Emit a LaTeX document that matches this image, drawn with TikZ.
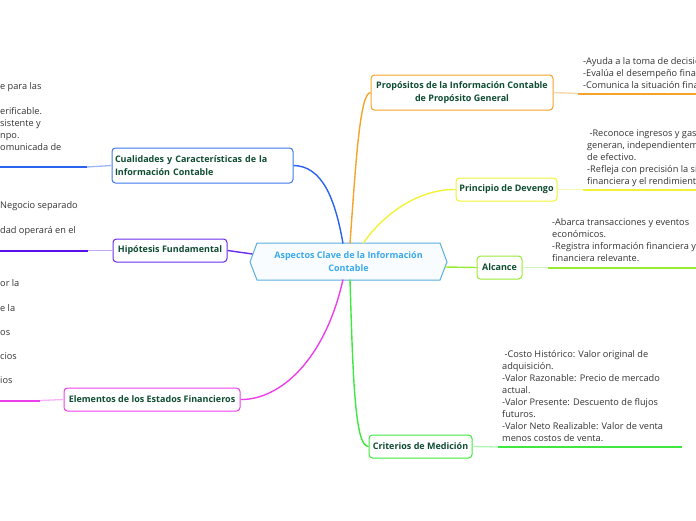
\documentclass[tikz,border=0pt]{standalone}
\usepackage{fontspec}
\setmainfont{Open Sans}
\usetikzlibrary{calc}
\definecolor{ntext}{HTML}{0E4D31}
\definecolor{leaftext}{HTML}{333333}
\definecolor{cBlue}{HTML}{3F77EE}
\definecolor{cBlueD}{HTML}{2B63EE}
\definecolor{cBlueL}{HTML}{9DB8F7}
\definecolor{cPur}{HTML}{6A2CEC}
\definecolor{cPurD}{HTML}{5A10EA}
\definecolor{cPurL}{HTML}{C3A9F7}
\definecolor{cMag}{HTML}{EC3FEC}
\definecolor{cMagL}{HTML}{F6B0F6}
\definecolor{cOra}{HTML}{F6A329}
\definecolor{cOraL}{HTML}{FAD4A4}
\definecolor{cYel}{HTML}{F2F236}
\definecolor{cYelL}{HTML}{F8F8B0}
\definecolor{cLGr}{HTML}{98EB35}
\definecolor{cLGrL}{HTML}{D4F6B4}
\definecolor{cGre}{HTML}{3FE83F}
\definecolor{cGreL}{HTML}{B4F4B4}
\definecolor{cCen}{HTML}{5AAEE2}
\definecolor{cCenT}{HTML}{3BA9EB}
\definecolor{cCenF}{HTML}{F8FCFF}
\begin{document}
\begin{tikzpicture}[x=1pt,y=-1pt,
  topic/.style={draw, rounded corners=3.5pt, line width=1pt, fill=white, text=ntext,
    font=\bfseries\fontsize{9}{13}\selectfont, inner sep=0pt, minimum height=23pt},
  leaf/.style={text=leaftext, font=\fontsize{9.2}{12}\selectfont, inner sep=0pt},
  conn/.style={line width=1.4pt},
  thinc/.style={line width=1.3pt},
  thickc/.style={line width=2pt}]
\useasboundingbox (0,0) rectangle (696,520);
\clip (0,0) rectangle (696,520);

% central hexagon
\draw[draw=cCen, fill=cCenF, line width=1pt]
  (250,262) -- (257,243) -- (440,243) -- (447,262) -- (440,280) -- (257,280) -- cycle;
\node[text=cCenT, font=\bfseries\fontsize{9}{13}\selectfont, align=center, inner sep=0pt]
  (center) at (348.5,261.5) {Aspectos Clave de la Información\\Contable};

% hexagon attachment points
\coordinate (cB) at (343,243.5);
\coordinate (cO) at (350,243.5);
\coordinate (cY) at (363,243.5);
\coordinate (cLG) at (445,267);
\coordinate (cG) at (350,279.5);
\coordinate (cM) at (343,279.5);
\coordinate (cP) at (252.5,254);

% topic nodes
\node[topic, draw=cBlue, minimum width=181pt, minimum height=35pt, text width=175pt, align=left]
  (cual) at (202.5,165.5) {Cualidades y Características de la\\Información Contable};
\node[topic, draw=cPur, minimum width=114pt] (hip) at (170,250.5) {Hipótesis Fundamental};
\node[topic, draw=cMag, minimum width=176pt] (elem) at (152,399.5) {Elementos de los Estados Financieros};
\node[topic, draw=cOra, minimum width=182pt, minimum height=35pt, align=center]
  (prop) at (462,92.5) {Propósitos de la Información Contable\\de Propósito General};
\node[topic, draw=cYel, minimum width=101pt] (dev) at (506.5,189.5) {Principio de Devengo};
\node[topic, draw=cLGr, minimum width=45pt] (alc) at (499.5,267.5) {Alcance};
\node[topic, draw=cGre, minimum width=103pt] (crit) at (420.5,446.5) {Criterios de Medición};

% main connectors
\draw[conn, cBlueD] (cB) .. controls (335,198) and (322,166) .. (cual.east);
\draw[conn, cOra] (cO) .. controls (356,160) and (360,93) .. (prop.west);
\draw[conn, cYel] (cY) .. controls (385,212) and (420,189) .. (dev.west);
\draw[conn, cLGr] (cLG) -- (alc.west);
\draw[conn, cGre] (cG) .. controls (353,380) and (355,447) .. (crit.west);
\draw[conn, cMag] (cM) .. controls (325,360) and (280,400) .. (elem.east);
\draw[conn, cPur] (hip.east) -- (cP);

% leaf underline coordinates
\coordinate (uC1) at (87,167);   \coordinate (uC2) at (-5,167);
\coordinate (uH1) at (88,250.5); \coordinate (uH2) at (-5,250.5);
\coordinate (uE1) at (40,400.5); \coordinate (uE2) at (-5,400.5);
\coordinate (uP1) at (578,93.5); \coordinate (uP2) at (700,93.5);
\coordinate (uD1) at (583,189.5);\coordinate (uD2) at (700,189.5);
\coordinate (uA1) at (548,267.5);\coordinate (uA2) at (700,267.5);
\coordinate (uR1) at (498,447);  \coordinate (uR2) at (682,447);

\draw[thinc, cBlueL] (cual.west) -- (uC1);  \draw[thickc, cBlueD] (uC1) -- (uC2);
\draw[thinc, cPurL] (hip.west) -- (uH1);    \draw[thickc, cPurD] (uH1) -- (uH2);
\draw[thinc, cMagL] (elem.west) -- (uE1);   \draw[thickc, cMag] (uE1) -- (uE2);
\draw[thinc, cOraL] (prop.east) -- (uP1);   \draw[thickc, cOra] (uP1) -- (uP2);
\draw[thinc, cYelL] (dev.east) -- (uD1);    \draw[thickc, cYel] (uD1) -- (uD2);
\draw[thinc, cLGrL] (alc.east) -- (uA1);    \draw[thickc, cLGr] (uA1) -- (uA2);
\draw[thinc, cGreL] (crit.east) -- (uR1);   \draw[thickc, cGre] (uR1) -- (uR2);

% right leaves
\foreach \t [count=\i] in {-Ayuda a la toma de decisiones.,-Evalúa el desempeño financiero.,-Comunica la situación financiera.}
  \node[leaf, anchor=base west] (lp\i) at (583,{64+12*(\i-1)}) {\t};
\foreach \t [count=\i] in {\ -Reconoce ingresos y gastos cuando se,{generan, independientemente del flujo},de efectivo.,-Refleja con precisión la situación,financiera y el rendimiento.}
  \node[leaf, anchor=base west] (ld\i) at (587,{136+12*(\i-1)}) {\t};
\foreach \t [count=\i] in {-Abarca transacciones y eventos,económicos.,-Registra información financiera y no,financiera relevante.}
  \node[leaf, anchor=base west] (la\i) at (552,{225+12*(\i-1)}) {\t};
\foreach \t [count=\i] in {\ -Costo Histórico: Valor original de,adquisición.,-Valor Razonable: Precio de mercado,actual.,-Valor Presente: Descuento de flujos,futuros.,-Valor Neto Realizable: Valor de venta,menos costos de venta.}
  \node[leaf, anchor=base west] (lr\i) at (502,{357+12*(\i-1)}) {\t};

% left leaves (visible fragments, all starting at the left edge)
\node[leaf, anchor=base west] (lc1) at (0,89.5) {e para las};
\node[leaf, anchor=base west] (lc2) at (0,114) {erificable.};
\node[leaf, anchor=base west] (lc3) at (0,126) {sistente y};
\node[leaf, anchor=base west] (lc4) at (0,138) {npo.};
\node[leaf, anchor=base west] (lc5) at (0,150) {omunicada de};
\node[leaf, anchor=base west] (lh1) at (0,208) {Negocio separado};
\node[leaf, anchor=base west] (lh2) at (0,233) {dad operará en el};
\node[leaf, anchor=base west] (le1) at (0,286) {or la};
\node[leaf, anchor=base west] (le2) at (0,311) {e la};
\node[leaf, anchor=base west] (le3) at (0,335) {os};
\node[leaf, anchor=base west] (le4) at (0,359) {cios};
\node[leaf, anchor=base west] (le5) at (0,383) {ios};
\end{tikzpicture}
\end{document}
